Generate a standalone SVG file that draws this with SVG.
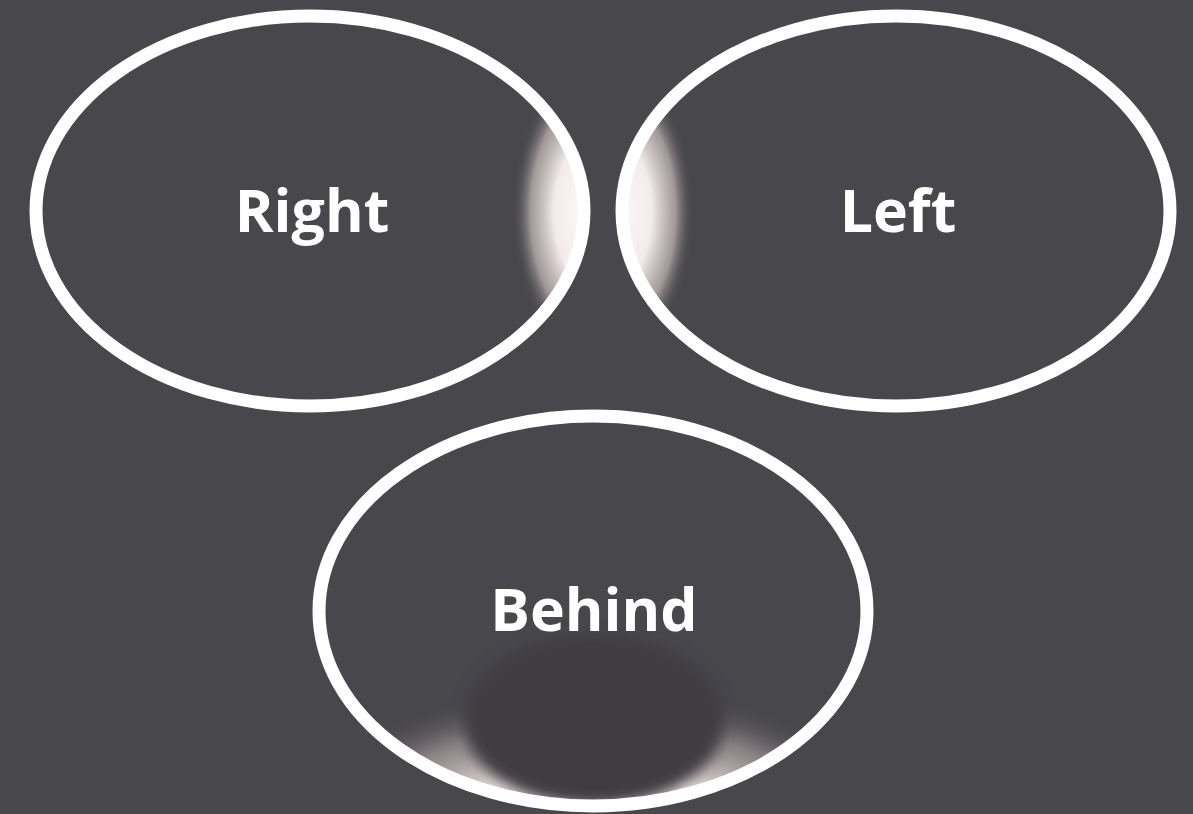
<svg xmlns="http://www.w3.org/2000/svg" width="1193" height="814" viewBox="0 0 1193 814">
<style>
.ring{fill:none;stroke:#ffffff;stroke-width:13}
.lbl{font-family:"Open Sans","Liberation Sans",sans-serif;font-weight:700;font-size:59px;fill:#ffffff;text-anchor:middle}
</style>
<defs>
<radialGradient id="glow" cx="0.5" cy="0.5" r="0.5">
<stop offset="0" stop-color="#ffffff" stop-opacity="1"/>
<stop offset="0.5" stop-color="#fbf4f3" stop-opacity="0.95"/>
<stop offset="0.78" stop-color="#d2c4c2" stop-opacity="0.65"/>
<stop offset="1" stop-color="#48474c" stop-opacity="0"/>
</radialGradient>
<radialGradient id="glowB" cx="0.5" cy="0.5" r="0.5">
<stop offset="0" stop-color="#ffffff" stop-opacity="1"/>
<stop offset="0.45" stop-color="#f3e8e5" stop-opacity="0.95"/>
<stop offset="0.75" stop-color="#bdb1b0" stop-opacity="0.55"/>
<stop offset="1" stop-color="#48474c" stop-opacity="0"/>
</radialGradient>
<filter id="soft" x="-20%" y="-20%" width="140%" height="140%">
<feGaussianBlur stdDeviation="7"/>
</filter>
<clipPath id="c1"><ellipse cx="310" cy="211" rx="274" ry="195"/></clipPath>
<clipPath id="c2"><ellipse cx="896" cy="211" rx="274" ry="195"/></clipPath>
<clipPath id="c3"><ellipse cx="593" cy="611" rx="274" ry="195"/></clipPath>
</defs>
<rect width="1193" height="814" fill="#48474c"/>
<g id="node-right">
<g clip-path="url(#c1)">
<ellipse cx="596" cy="212" rx="84" ry="150" fill="url(#glow)"/>
</g>
<ellipse class="ring" cx="310" cy="211" rx="274" ry="195"/>
<text class="lbl" x="312" y="232">Right</text>
</g>
<g id="node-left">
<g clip-path="url(#c2)">
<ellipse cx="610" cy="212" rx="84" ry="150" fill="url(#glow)"/>
</g>
<ellipse class="ring" cx="896" cy="211" rx="274" ry="195"/>
<text class="lbl" x="898" y="232">Left</text>
</g>
<g id="node-behind">
<g clip-path="url(#c3)">
<ellipse cx="593" cy="835" rx="310" ry="150" fill="url(#glowB)"/>
<ellipse cx="594" cy="720" rx="131" ry="86" fill="#3f3e43" filter="url(#soft)"/>
</g>
<ellipse class="ring" cx="593" cy="611" rx="274" ry="195"/>
<text class="lbl" x="594" y="631">Behind</text>
</g>
<g id="connectors"/>
</svg>
